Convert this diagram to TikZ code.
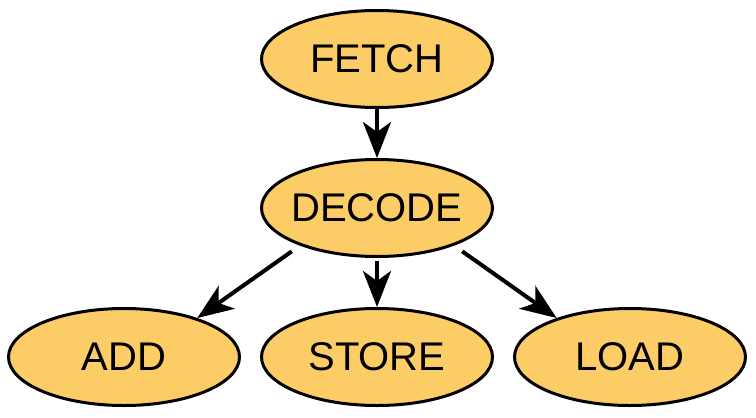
\documentclass[tikz,border=0pt]{standalone}
\usepackage{fontspec}
\setmainfont{Liberation Sans}
\usetikzlibrary{shapes.geometric,arrows.meta}
\definecolor{nodefill}{RGB}{252,204,102}
\newcommand{\lbl}[1]{\makebox[0pt]{#1}}
\tikzset{
  state/.style={ellipse, draw=black, line width=3pt, fill=nodefill,
    minimum width=231pt, minimum height=97pt, inner sep=0pt,
    font=\fontsize{40}{42}\selectfont},
  arr/.style={line width=4pt, -{Stealth[length=36pt,width=28pt,inset=10pt]}}
}
\begin{document}
\begin{tikzpicture}[x=1pt,y=-1pt]
\useasboundingbox[fill=white] (0,0) rectangle (756,418);
\node[state] (fetch)  at (377,59)  {\lbl{FETCH}};
\node[state] (decode) at (377,208) {\lbl{DECODE}};
\node[state] (add)    at (124,357) {\lbl{ADD}};
\node[state] (store)  at (377,357) {\lbl{STORE}};
\node[state] (load)   at (630,357) {\lbl{LOAD}};
\draw[arr] (fetch.south) -- (decode.north);
\draw[arr, shorten <=3pt] (decode.south) -- (store.north);
\draw[arr, shorten <=10pt] (decode.206) -- (add.28);
\draw[arr, shorten <=10pt] (decode.-26) -- (load.152);
\end{tikzpicture}
\end{document}
